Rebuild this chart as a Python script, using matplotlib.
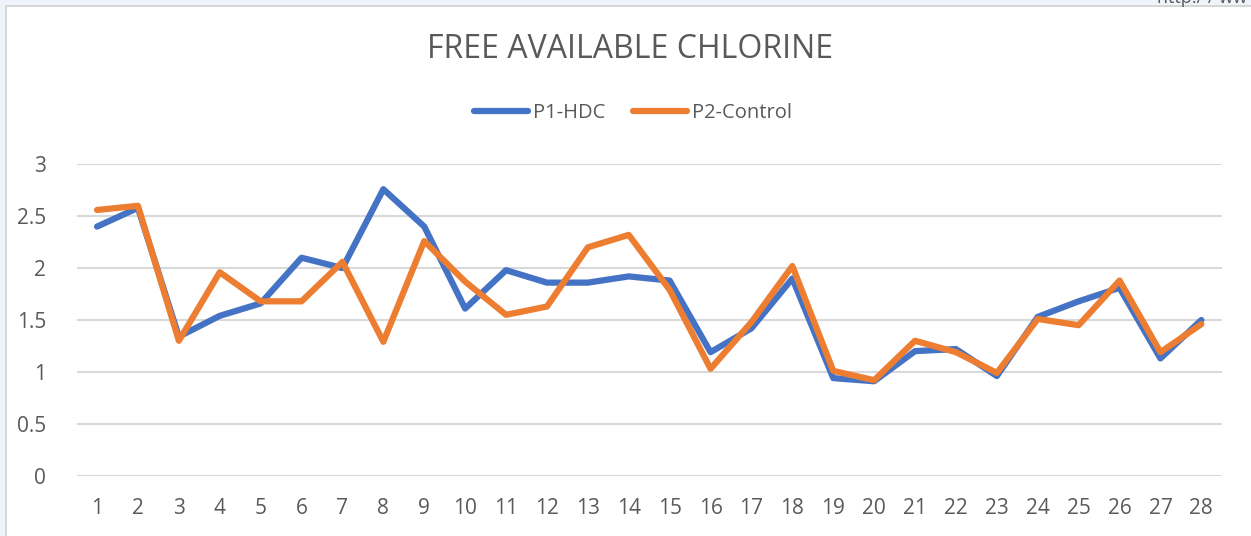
import matplotlib
matplotlib.use("Agg")
from matplotlib import pyplot as plt
from matplotlib.patches import Rectangle

days = list(range(1, 29))
p1_hdc = [2.40, 2.58, 1.34, 1.54, 1.66, 2.10, 2.00, 2.76, 2.40, 1.61,
          1.98, 1.86, 1.86, 1.92, 1.88, 1.19, 1.42, 1.90, 0.94, 0.91,
          1.20, 1.22, 0.96, 1.53, 1.68, 1.81, 1.13, 1.50]
p2_control = [2.56, 2.60, 1.30, 1.96, 1.68, 1.68, 2.06, 1.29, 2.26, 1.87,
              1.55, 1.63, 2.20, 2.32, 1.79, 1.03, 1.48, 2.02, 1.01, 0.92,
              1.30, 1.19, 0.99, 1.51, 1.45, 1.88, 1.19, 1.46]
yticks = [0, 0.5, 1, 1.5, 2, 2.5, 3]
ytick_labels = ["0", "0.5", "1", "1.5", "2", "2.5", "3"]

plt.rcParams['font.family'] = ['Open Sans', 'DejaVu Sans']
grey = "#595959"

fig = plt.figure(figsize=(12.51, 5.36), dpi=100)
fig.patch.set_facecolor("#eef4f9")
# white chart area behind the axes
fig.patches.append(Rectangle((6 / 1251, -0.01), 1.0, 1.01 - 6 / 536, transform=fig.transFigure,
                             facecolor="white", edgecolor="#d0d0d0", linewidth=1.2, zorder=-5))
# source url, cut by the top edge like in the screenshot
fig.text(1157 / 1251, 1 - 3 / 536, "http:/ / ww", color=grey, fontsize=13, ha="left", va="baseline")

ax = fig.add_axes([76.6 / 1251, 1 - 475.7 / 536, (1221.8 - 76.6) / 1251, (475.7 - 164.3) / 536])
ax.set_facecolor("none")
ax.plot(days, p1_hdc, color="#4472C4", lw=4.5, label="P1-HDC", solid_capstyle="round", zorder=3)
ax.plot(days, p2_control, color="#ED7D31", lw=4.5, label="P2-Control", solid_capstyle="round", zorder=4)

ax.set_xlim(0.5, 28.5)
ax.set_ylim(0, 3)
ax.set_xticks(days)
ax.set_yticks(yticks)
ax.set_yticklabels(ytick_labels)
ax.tick_params(length=0, colors=grey, labelsize=15)
ax.tick_params(axis="x", pad=16)
ax.tick_params(axis="y", pad=22)
ax.grid(axis="y", color="#d9d9d9", linewidth=1.5)
ax.set_axisbelow(True)
for s in ax.spines.values():
    s.set_visible(False)

fig.text(630 / 1251, 1 - 49 / 536, "FREE AVAILABLE CHLORINE", color=grey, fontsize=23,
         ha="center", va="center")
fig.legend(loc="center", bbox_to_anchor=(633 / 1251, 1 - 113 / 536), ncol=2, frameon=False,
           fontsize=14.5, labelcolor=grey, handlelength=2.7, columnspacing=1.35, handletextpad=0.25)

fig.savefig("out.png", dpi=100, facecolor=fig.get_facecolor())
